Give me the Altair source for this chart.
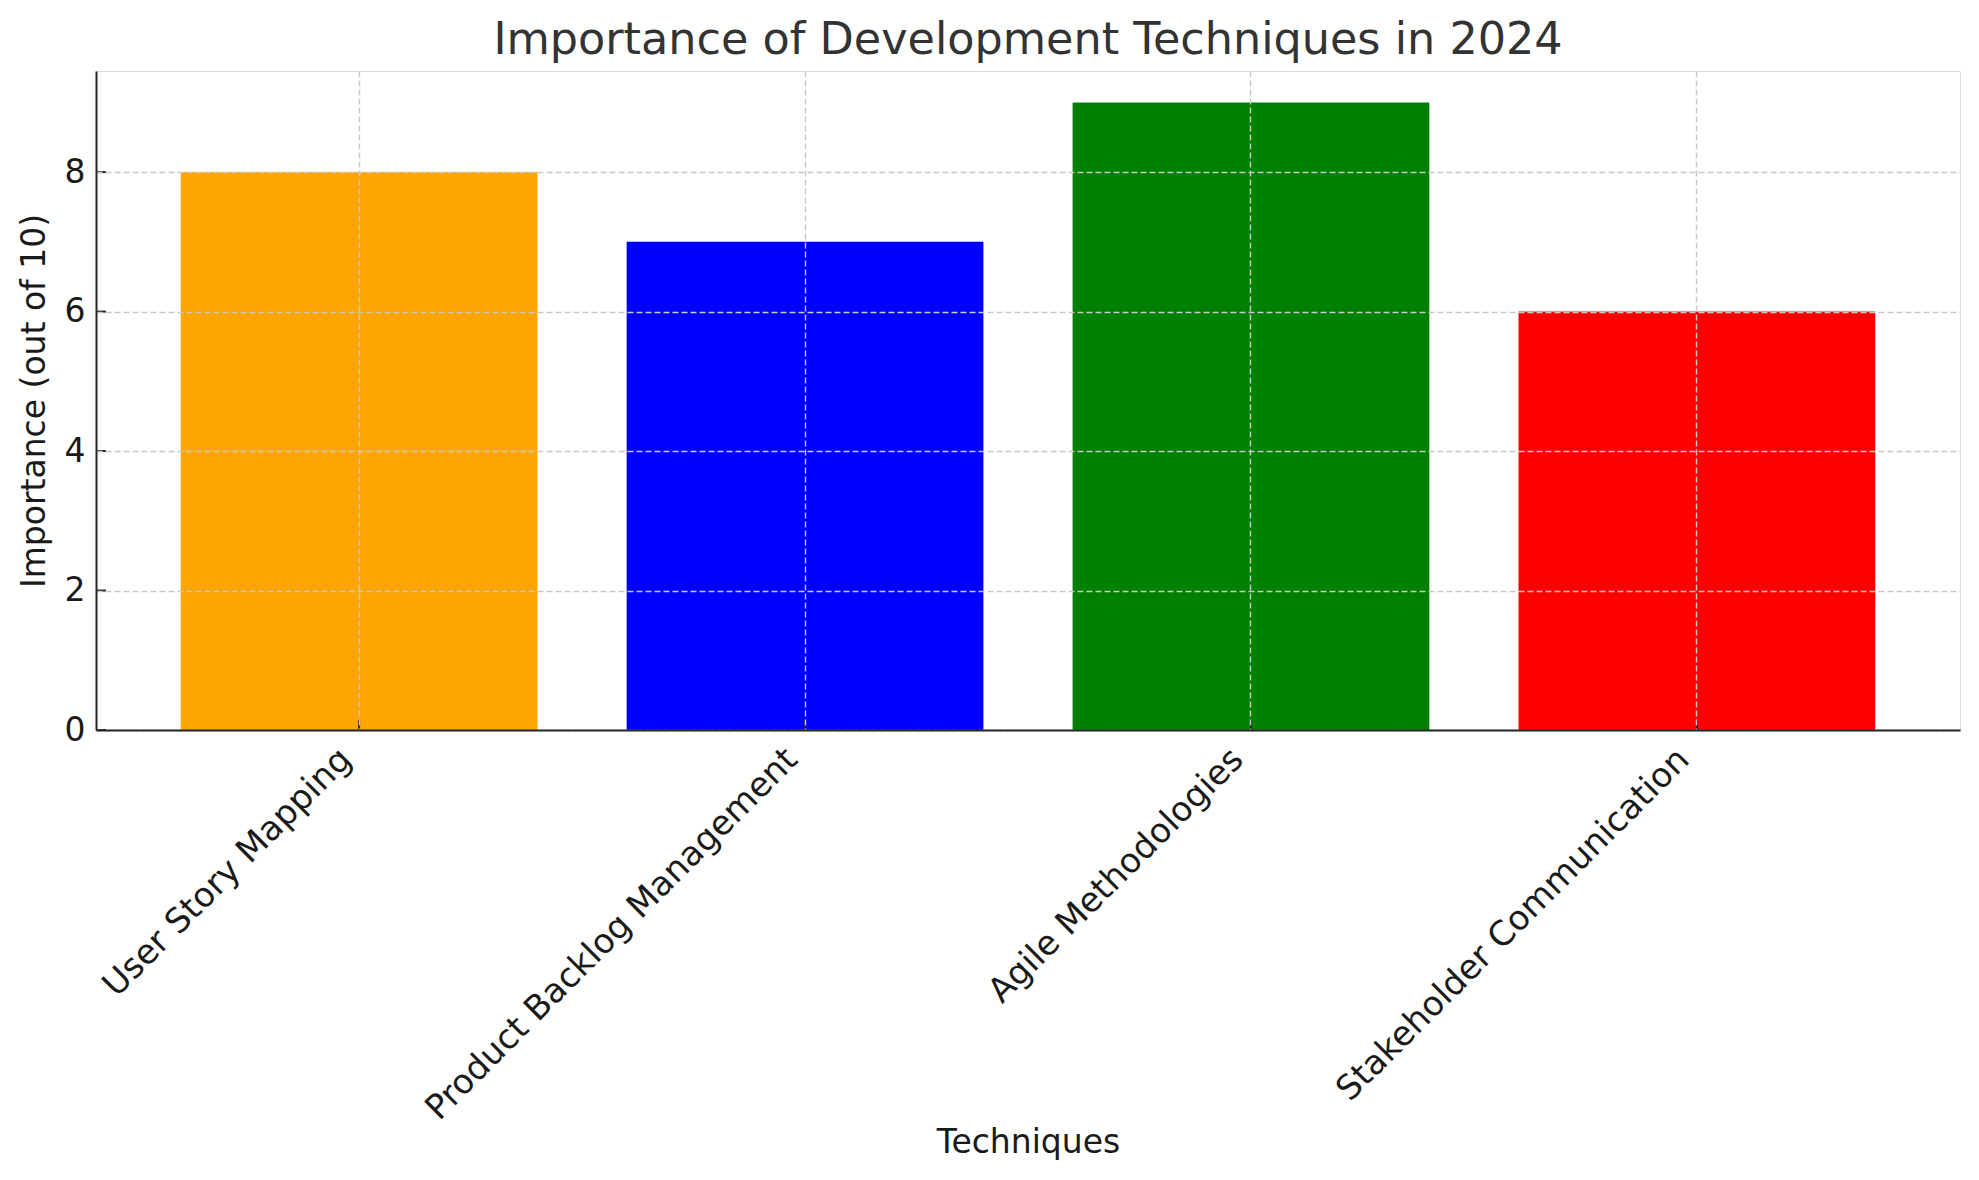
import altair as alt
import pandas as pd

techniques = ["User Story Mapping", "Product Backlog Management", "Agile Methodologies", "Stakeholder Communication"]
importance = [8, 7, 9, 6]
colors = ["#FFA500", "#0000FF", "#008000", "#FF0000"]
y_ticks = [0, 2, 4, 6, 8]

df = pd.DataFrame({"Technique": techniques, "Importance": importance})
df_ticks = pd.DataFrame({"Importance": y_ticks})

PW, PH = 1864, 659
FONT = "DejaVu Sans"
DARK = "#262626"

x_scale = alt.Scale(domain=techniques, paddingInner=0.2, paddingOuter=0.19)
y_scale = alt.Scale(domain=[0, 9.45], nice=False, zero=True)

x_axis = alt.Axis(title="Techniques", titleFontSize=33, titleFont=FONT, titleColor="#1a1a1a",
                  titleFontWeight="normal", titleY=422, titleBaseline="alphabetic",
                  labelAngle=-45, labelAlign="right", labelBaseline="top",
                  labelFontSize=34, labelFont=FONT, labelColor="#1a1a1a",
                  labelPadding=12, labelOffset=-25,
                  ticks=False, tickSize=0,
                  domain=True, domainColor=DARK, domainWidth=2,
                  grid=True, gridDash=[6, 3], gridColor="#c8c8c8", gridWidth=1.4,
                  labelLimit=1000, zindex=1)
y_axis = alt.Axis(title="Importance (out of 10)", titleFontSize=33, titleFont=FONT,
                  titleColor="#1a1a1a", titleFontWeight="normal",
                  titleX=-62, titleBaseline="middle",
                  values=y_ticks, labelFontSize=33, labelFont=FONT, labelColor="#1a1a1a",
                  labelPadding=11, ticks=False, tickSize=0,
                  domain=True, domainColor=DARK, domainWidth=2,
                  grid=True, gridDash=[6, 3], gridColor="#c8c8c8", gridWidth=1.4,
                  zindex=1)

bars = alt.Chart(df).mark_bar().encode(
    x=alt.X("Technique:N", sort=techniques, scale=x_scale, axis=x_axis),
    y=alt.Y("Importance:Q", scale=y_scale, axis=y_axis),
    color=alt.Color("Technique:N", scale=alt.Scale(domain=techniques, range=colors), legend=None),
)

xticks = alt.Chart(df).mark_rule(color=DARK, strokeWidth=2).encode(
    x=alt.X("Technique:N", sort=techniques, scale=x_scale, axis=x_axis),
    y=alt.value(PH),
    y2=alt.value(PH - 10),
)

yticks = alt.Chart(df_ticks).mark_rule(color=DARK, strokeWidth=2).encode(
    y=alt.Y("Importance:Q", scale=y_scale, axis=y_axis),
    x=alt.value(0),
    x2=alt.value(10),
)

chart = alt.layer(bars, xticks, yticks).properties(
    width=PW,
    height=PH,
    title=alt.TitleParams(text="Importance of Development Techniques in 2024", fontSize=44.5,
                          font=FONT, color="#333333", fontWeight="normal", anchor="middle",
                          baseline="alphabetic", offset=16, dy=43, frame="group"),
    autosize=alt.AutoSizeParams(type="none"),
    padding={"left": 88, "top": 63, "right": 11, "bottom": 440},
).configure_view(strokeWidth=0, stroke="transparent").configure(background="white")

chart.save("out.html", embed_options={"renderer": "svg", "actions": False})
